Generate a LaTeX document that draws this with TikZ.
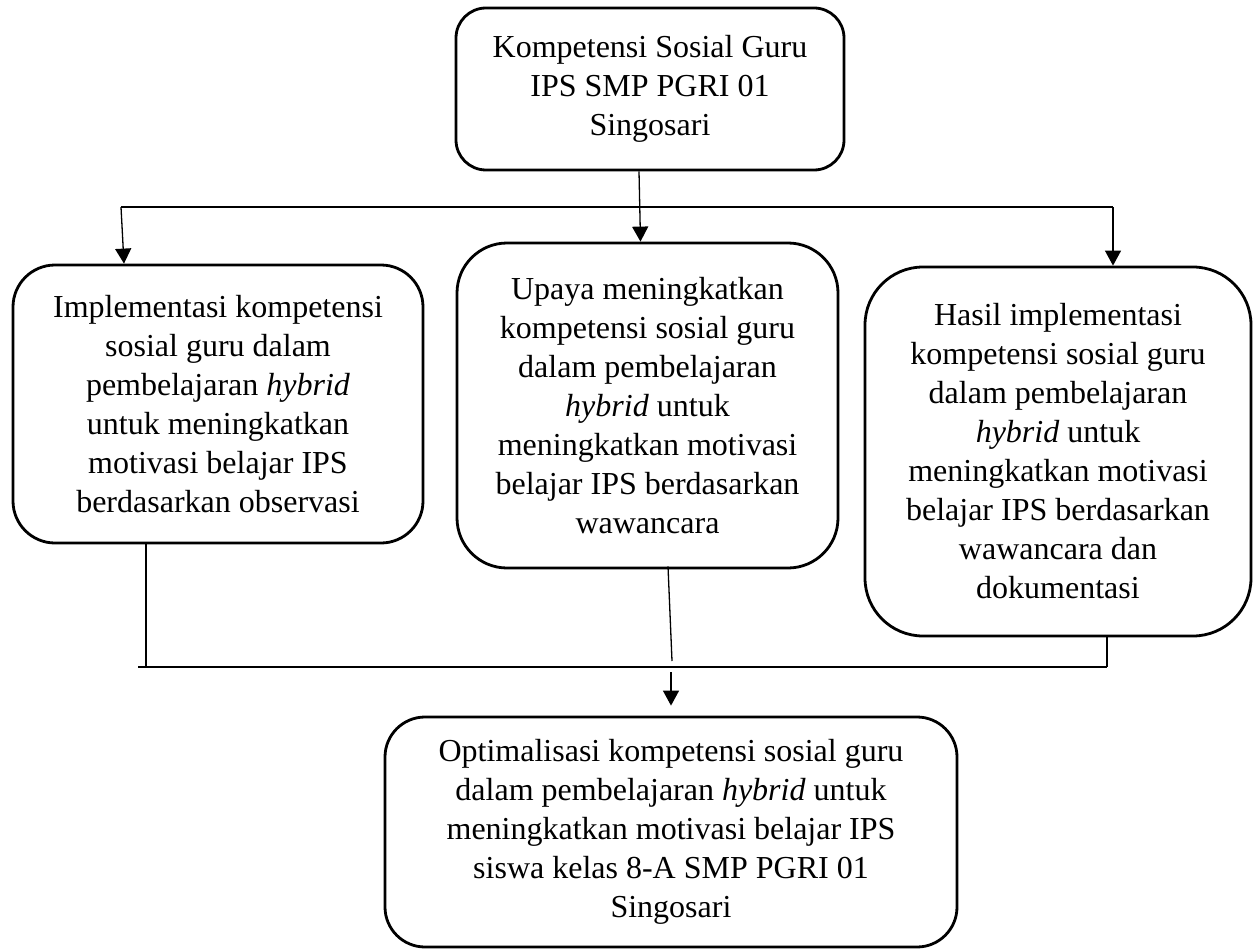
\documentclass[tikz,border=0pt]{standalone}
\usepackage{fontspec}
\setmainfont{Liberation Serif}
\usetikzlibrary{arrows.meta,calc}
\tikzset{
  box/.style={draw, line width=2.8pt, align=center, inner sep=0pt,
    font=\fontsize{32}{39}\selectfont},
  conn/.style={draw, line width=1.3pt},
  arr/.style={draw, line width=1.3pt, -{Triangle[width=16pt,length=15pt]}}
}
\begin{document}
\begin{tikzpicture}[x=1pt,y=-1pt]
\useasboundingbox (0,0) rectangle (1260,952);

\node[box, rounded corners=30pt, minimum width=388pt, minimum height=162pt] (top) at (650,89)
  {Kompetensi Sosial Guru\\IPS SMP PGRI 01\\Singosari};

\node[box, rounded corners=42pt, minimum width=410pt, minimum height=278pt] (left) at (218,404)
  {Implementasi kompetensi\\sosial guru dalam\\pembelajaran \textit{hybrid}\\untuk meningkatkan\\motivasi belajar IPS\\berdasarkan observasi};

\node[box, rounded corners=50pt, minimum width=381pt, minimum height=325pt] (mid) at (647.5,405.5)
  {Upaya meningkatkan\\kompetensi sosial guru\\dalam pembelajaran\\\textit{hybrid} untuk\\meningkatkan motivasi\\belajar IPS berdasarkan\\wawancara};

\node[box, rounded corners=58pt, minimum width=386pt, minimum height=369pt] (right) at (1058,451.5)
  {Hasil implementasi\\kompetensi sosial guru\\dalam pembelajaran\\\textit{hybrid} untuk\\meningkatkan motivasi\\belajar IPS berdasarkan\\wawancara dan\\dokumentasi};

\node[box, rounded corners=40pt, minimum width=572pt, minimum height=230pt] (bot) at (671,832)
  {Optimalisasi kompetensi sosial guru\\dalam pembelajaran \textit{hybrid} untuk\\meningkatkan motivasi belajar IPS\\siswa kelas 8-A SMP PGRI 01\\Singosari};

% top distribution
\coordinate (hL) at (121,207);
\coordinate (hR) at (1113,207);
\draw[conn] (hL) -- (hR);
\draw[arr] ([xshift=-11pt]top.south) -- ([xshift=-7pt]mid.north);
\draw[arr] (hL) -- ([xshift=-94pt]left.north);
\draw[arr] (hR) -- ([xshift=55pt]right.north);

% bottom collection
\coordinate (bL) at (138,667);
\coordinate (bR) at (1107,667);
\coordinate (mE) at (672,661);
\coordinate (aS) at (671,672);
\draw[conn] (bL) -- (bR);
\draw[conn] ([xshift=-72pt]left.south) -- ([xshift=-72pt]left.south |- bL);
\draw[conn] ([xshift=49pt]right.south) -- (bR);
\draw[conn] ([xshift=20.5pt,yshift=3pt]mid.south) -- (mE);
\draw[arr, shorten >=10pt] (aS) -- (aS |- bot.north);
\end{tikzpicture}
\end{document}
